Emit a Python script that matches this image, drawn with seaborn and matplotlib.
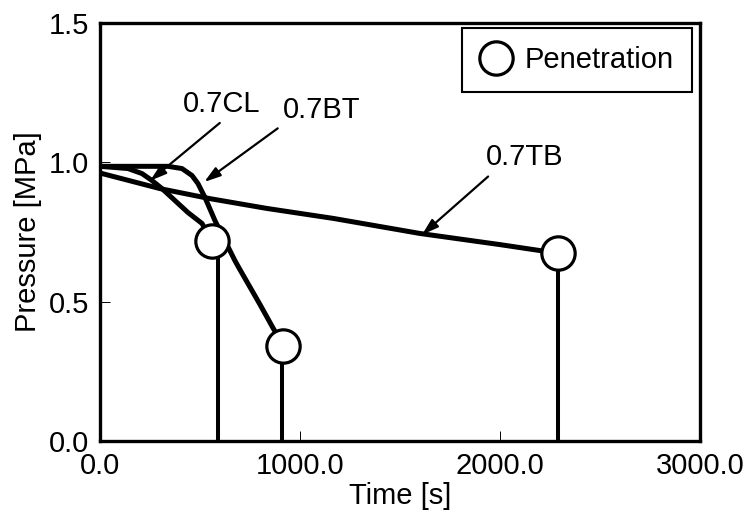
import numpy as np
import pandas as pd
import matplotlib.pyplot as plt
import seaborn as sns

# curves (time [s], pressure [MPa])
cl_time = [0, 140, 210, 260, 310, 375, 440, 510, 562]
cl_pres = [0.986, 0.978, 0.960, 0.935, 0.906, 0.863, 0.820, 0.781, 0.717]

bt_time = [0, 340, 410, 460, 490, 525, 575, 625, 675, 700, 800, 865, 917]
bt_pres = [0.986, 0.986, 0.978, 0.953, 0.924, 0.874, 0.791, 0.719, 0.647,
           0.615, 0.49, 0.406, 0.342]

tb_time = [0, 300, 550, 833, 1167, 1600, 2000, 2290]
tb_pres = [0.962, 0.906, 0.870, 0.835, 0.799, 0.745, 0.705, 0.674]

# penetration points and where pressure drops to zero
pen_time = [562, 917, 2290]
pen_pres = [0.717, 0.342, 0.676]
drop_time = [590, 908, 2290]

x_ticks = [0, 1000, 2000, 3000]
x_labels = ["0.0", "1000.0", "2000.0", "3000.0"]
y_ticks = [0, 0.5, 1.0, 1.5]
y_labels = ["0.0", "0.5", "1.0", "1.5"]

sns.set_theme(style="ticks")
plt.rcParams["font.family"] = ["Liberation Sans", "DejaVu Sans"]
plt.rcParams["text.color"] = "black"
plt.rcParams["axes.labelcolor"] = "black"
plt.rcParams["xtick.color"] = "black"
plt.rcParams["ytick.color"] = "black"

df = pd.concat([
    pd.DataFrame({"time": cl_time, "pres": cl_pres, "case": "0.7CL"}),
    pd.DataFrame({"time": bt_time, "pres": bt_pres, "case": "0.7BT"}),
    pd.DataFrame({"time": tb_time, "pres": tb_pres, "case": "0.7TB"}),
])

fig = plt.figure(figsize=(7.48, 5.14), dpi=100)
ax = fig.add_axes([0.1337, 0.142, 0.802, 0.813])

sns.lineplot(data=df, x="time", y="pres", units="case", estimator=None,
             color="black", lw=3.6, sort=False, ax=ax, legend=False)
for ln in ax.lines:
    ln.set_solid_joinstyle("round")
    ln.set_solid_capstyle("round")

ax.vlines(drop_time, 0, pen_pres, color="black", lw=2.9, zorder=3)
ax.plot(pen_time, pen_pres, "o", ms=24, mfc="white", mec="black", mew=2.3,
        zorder=4, label="Penetration")

ax.set_xlim(0, 3000)
ax.set_ylim(0, 1.5)
ax.set_xticks(x_ticks, x_labels)
ax.set_yticks(y_ticks, y_labels)
ax.tick_params(direction="in", length=7, width=0.7, labelsize=21, pad=8)
for s in ax.spines.values():
    s.set_linewidth(2.4)
    s.set_color("black")
ax.set_xlabel("Time [s]", fontsize=21, labelpad=1)
ax.set_ylabel("Pressure [MPa]", fontsize=21, labelpad=5)

arrow = dict(arrowstyle="-|>,head_length=0.7,head_width=0.22", color="black",
             lw=1.6, mutation_scale=14)
ax.annotate("0.7CL", xy=(240, 0.928), xytext=(610, 1.21), fontsize=21,
            ha="center", va="center", arrowprops=dict(arrow, relpos=(0.55, 0)))
ax.annotate("0.7BT", xy=(510, 0.924), xytext=(1110, 1.187), fontsize=21,
            ha="center", va="center", arrowprops=dict(arrow, relpos=(0.0, 0)))
ax.annotate("0.7TB", xy=(1600, 0.734), xytext=(2125, 1.018), fontsize=21,
            ha="center", va="center", arrowprops=dict(arrow, relpos=(0.1, 0)))

leg = ax.legend(loc="upper right", bbox_to_anchor=(0.987, 0.988), fontsize=21,
                fancybox=False, edgecolor="black", framealpha=1,
                handlelength=1.1, handletextpad=0.45, borderpad=0.62,
                borderaxespad=0, markerscale=1.0)
leg.get_frame().set_linewidth(1.5)

fig.savefig("out.png", dpi=100)
